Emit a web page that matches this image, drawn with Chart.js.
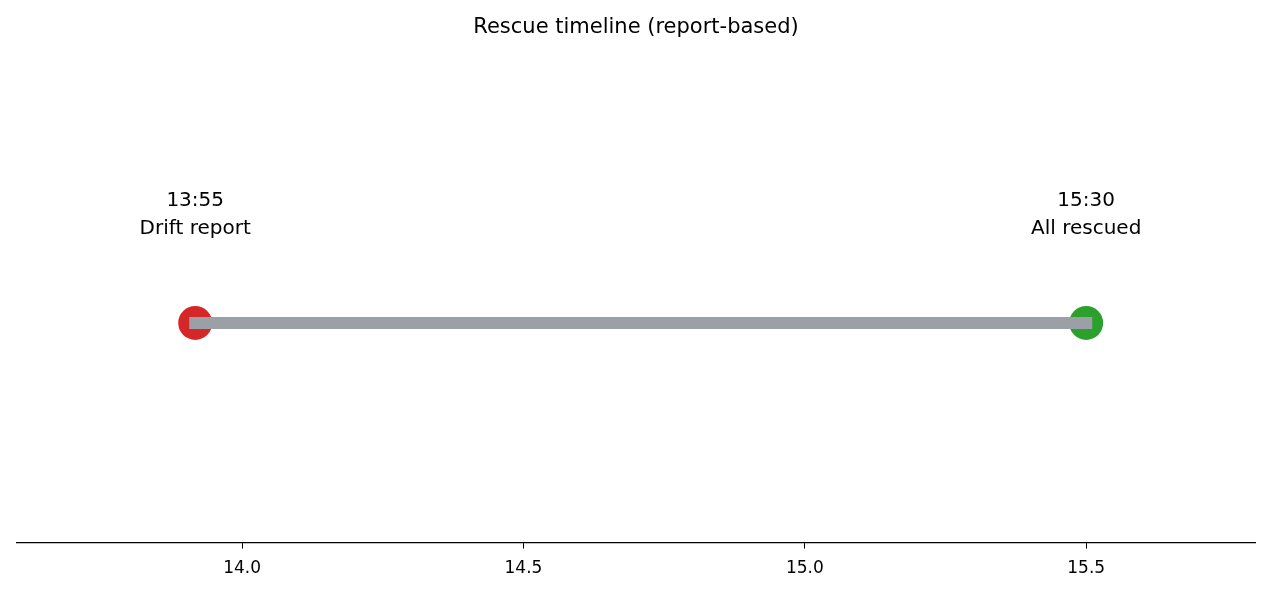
<!DOCTYPE html>
<html>
<head>
<meta charset="utf-8">
<script src="https://cdn.jsdelivr.net/npm/chart.js@4"></script>
<style>
  html, body { margin: 0; padding: 0; background: #fff; }
  #wrap { width: 1272px; height: 593px; }
</style>
</head>
<body>
<div id="wrap"><canvas id="chart"></canvas></div>
<script>
// event data (hours as decimals)
const eventTimes = [13 + 55 / 60, 15.5];
const eventClock = ['13:55', '15:30'];
const eventNames = ['Drift report', 'All rescued'];
const eventColors = ['#d62728', '#2ca02c'];
const xTicks = [14.0, 14.5, 15.0, 15.5];

// text labels above each event
const labelPlugin = {
  id: 'eventLabels',
  afterDatasetsDraw(chart) {
    const c = chart.ctx;
    const xs = chart.scales.x, ys = chart.scales.y;
    c.save();
    c.fillStyle = '#000';
    c.font = '20px DejaVu Sans, sans-serif';
    c.textAlign = 'center';
    c.textBaseline = 'middle';
    eventTimes.forEach((t, i) => {
      c.fillText(eventClock[i], xs.getPixelForValue(t), ys.getPixelForValue(0.557));
      c.fillText(eventNames[i], xs.getPixelForValue(t), ys.getPixelForValue(0.43));
    });
    c.restore();
  }
};

const ctx = document.getElementById('chart').getContext('2d');
new Chart(ctx, {
  type: 'line',
  data: {
    datasets: [
      {
        data: eventTimes.map(t => ({ x: t, y: 0 })),
        borderColor: '#9aa0a6',
        borderWidth: 12,
        borderCapStyle: 'square',
        pointRadius: 0,
        order: 1
      },
      {
        data: eventTimes.map(t => ({ x: t, y: 0 })),
        showLine: false,
        pointRadius: 17,
        pointBackgroundColor: eventColors,
        pointBorderWidth: 0,
        order: 2
      }
    ]
  },
  options: {
    responsive: true,
    maintainAspectRatio: false,
    animation: false,
    layout: { padding: { left: 16, right: 16, top: 0, bottom: 4 } },
    plugins: {
      legend: { display: false },
      tooltip: { enabled: false },
      title: {
        display: true,
        text: 'Rescue timeline (report-based)',
        color: '#000',
        font: { size: 21, family: 'DejaVu Sans, sans-serif', weight: 'normal' },
        padding: { top: 15, bottom: 63 }
      }
    },
    scales: {
      x: {
        type: 'linear',
        min: 13.6,
        max: 15.8,
        afterBuildTicks: s => { s.ticks = xTicks.map(v => ({ value: v })); },
        ticks: {
          color: '#000',
          padding: 10,
          font: { size: 17, family: 'DejaVu Sans, sans-serif' },
          callback: v => v.toFixed(1)
        },
        grid: { drawOnChartArea: false, tickLength: 6, color: '#000' },
        border: { display: true, color: '#000', width: 1.2 }
      },
      y: { display: false, min: -1, max: 1 }
    }
  },
  plugins: [labelPlugin]
});
</script>
</body>
</html>
